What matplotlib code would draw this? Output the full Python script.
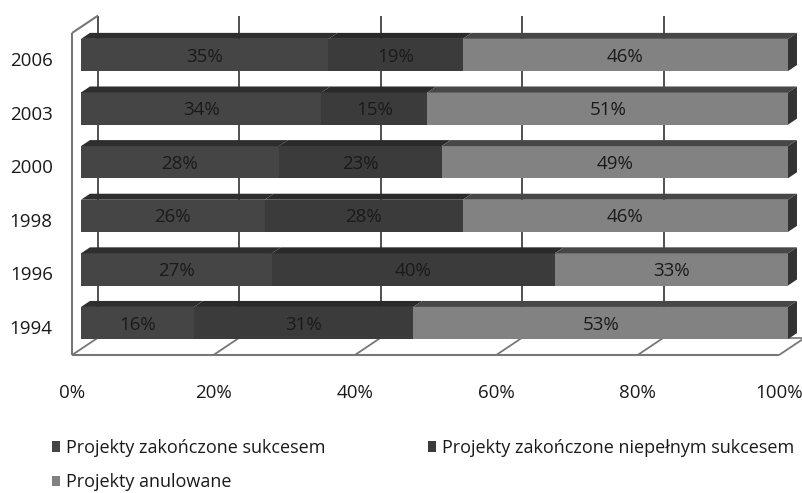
import matplotlib
matplotlib.use('Agg')
import matplotlib.pyplot as plt
from matplotlib.patches import Polygon

# ---- data ----
years = ['1994', '1996', '1998', '2000', '2003', '2006']
success = [16, 27, 26, 28, 34, 35]
partial = [31, 40, 28, 23, 15, 19]
cancelled = [53, 33, 46, 49, 51, 46]
series_names = ['Projekty zakończone sukcesem',
                'Projekty zakończone niepełnym sukcesem',
                'Projekty anulowane']
x_ticks = [0, 20, 40, 60, 80, 100]
x_tick_labels = ['0%', '20%', '40%', '60%', '80%', '100%']

# ---- style ----
front_colors = ['#454545', '#3b3b3b', '#828282']
top_colors = ['#2e2e2e', '#2a2a2a', '#474747']
side_color = '#333333'
grid_color = '#505050'
wall_color = '#777777'
text_color = '#1a1a1a'
FONT = 'Open Sans'
FS = 13.5
FS_LEG = 13

# depth projection (data units per unit depth)
DX, DY = 1.27, 0.112
D_FRONT, D_BACK = -1.0, 1.9
Y_FLOOR, Y_TOP = -0.485, 5.522
BAR_H = 0.6

def P(x, y, d):
    return (x + d * DX, y + d * DY)

fig = plt.figure(figsize=(8.03, 4.93), dpi=100)
ax = fig.add_axes([81 / 803, (493 - 355.2) / 493, 707 / 803, (355.2 - 22.8) / 493])
ax.set_xlim(0, 100)
ax.set_ylim(-0.6, 5.6)
ax.axis('off')

def line(p1, p2, color, lw, z):
    ax.plot([p1[0], p2[0]], [p1[1], p2[1]], color=color, lw=lw,
            clip_on=False, zorder=z, solid_capstyle='butt')

# back wall gridlines
for xt in x_ticks:
    line(P(xt, Y_FLOOR, D_BACK), P(xt, Y_TOP, D_BACK), grid_color, 1.4, 1)
# floor
line(P(0, Y_FLOOR, D_FRONT), P(100, Y_FLOOR, D_FRONT), wall_color, 1.5, 1)
line(P(0, Y_FLOOR, D_BACK), P(100, Y_FLOOR, D_BACK), wall_color, 1.2, 1)
for xt in x_ticks:
    line(P(xt, Y_FLOOR, D_FRONT), P(xt, Y_FLOOR, D_BACK), wall_color, 1.3, 1)
# left wall
line(P(0, Y_FLOOR, D_FRONT), P(0, Y_TOP, D_FRONT), wall_color, 1.5, 1)
line(P(0, Y_TOP, D_FRONT), P(0, Y_TOP, D_BACK), wall_color, 1.5, 1)

# bars
ypos = list(range(len(years)))
series = [success, partial, cancelled]
lefts = [0] * len(years)
handles = []
for si, vals in enumerate(series):
    bars = ax.barh(ypos, vals, left=lefts, height=BAR_H, color=front_colors[si],
                   zorder=3, label=series_names[si], linewidth=0)
    handles.append(bars)
    for i, (l, v) in enumerate(zip(lefts, vals)):
        yt = ypos[i] + BAR_H / 2
        top = Polygon([P(l, yt, 0), P(l + v, yt, 0), P(l + v, yt, 1), P(l, yt, 1)],
                      closed=True, facecolor=top_colors[si], edgecolor='none',
                      zorder=3, clip_on=False)
        ax.add_patch(top)
        if si == len(series) - 1:
            yb = ypos[i] - BAR_H / 2
            side = Polygon([P(l + v, yb, 0), P(l + v, yt, 0), P(l + v, yt, 1), P(l + v, yb, 1)],
                           closed=True, facecolor=side_color, edgecolor='none',
                           zorder=3, clip_on=False)
            ax.add_patch(side)
        ax.text(l + v / 2, ypos[i] - 0.03, f'{v}%', ha='center', va='center',
                fontsize=FS, family=FONT, color=text_color, zorder=5)
    lefts = [a + b for a, b in zip(lefts, vals)]

# category labels
for i, yr in enumerate(years):
    ax.text(-4.0, ypos[i] - DY, yr, ha='right', va='center', fontsize=FS,
            family=FONT, color=text_color, clip_on=False)
# x tick labels
for xt, lab in zip(x_ticks, x_tick_labels):
    px, py = P(xt, Y_FLOOR, D_FRONT)
    ax.text(px, -1.30, lab, ha='center', va='center', fontsize=FS,
            family=FONT, color=text_color, clip_on=False)

# legend
leg = fig.legend([handles[0], handles[2], handles[1]],
                 [series_names[0], series_names[2], series_names[1]],
                 ncol=2, loc='upper left', bbox_to_anchor=(52 / 803, 1 - 439 / 493),
                 frameon=False, borderpad=0, borderaxespad=0,
                 handlelength=0.45, handleheight=0.5, handletextpad=0.3,
                 labelspacing=0.9, columnspacing=5.7,
                 prop={'family': FONT, 'size': FS_LEG})
for t in leg.get_texts():
    t.set_color(text_color)

fig.savefig('out.png', dpi=100, facecolor='white')
